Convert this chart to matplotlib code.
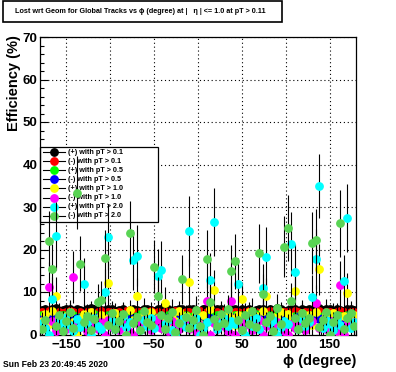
#!/usr/bin/env python
import numpy as np
import matplotlib
matplotlib.use('Agg')
from matplotlib import pyplot as plt
from matplotlib.lines import Line2D

# phi bins (4 degree wide), centres from -178 to 178
phi_lo, phi_hi, n_bins = -180.0, 180.0, 90

labels = ['(+) with pT > 0.1', '(-) with pT > 0.1',
          '(+) with pT > 0.5', '(-) with pT > 0.5',
          '(+) with pT > 1.0', '(-) with pT > 1.0',
          '(+) with pT > 2.0', '(-) with pT > 2.0']
colors = ['#000000', '#ff0000', '#00ff00', '#0000ff',
          '#ffff00', '#ff00ff', '#00ffff', '#59d454']

eff_pos_01 = [
    5.8, 6.0, 5.6, 5.9, 6.2, 5.5, 5.8, 6.1, 5.9, 5.6,
    6.0, 5.7, 5.5, 5.9, 6.2, 6.0, 5.6, 5.8, 5.7, 6.1,
    5.9, 5.5, 5.7, 6.0, 5.6, 5.8, 6.1, 5.7, 5.5, 5.9,
    6.0, 5.8, 5.6, 6.1, 5.9, 5.7, 6.0, 5.5, 5.8, 5.9,
    6.1, 5.6, 5.9, 6.0, 5.7, 5.5, 5.9, 6.2, 5.8, 5.6,
    6.0, 5.9, 5.5, 5.7, 6.1, 5.9, 5.6, 6.0, 5.8, 5.9,
    5.5, 5.8, 6.1, 5.9, 5.6, 6.0, 5.8, 6.2, 5.9, 5.6,
    5.8, 6.0, 5.9, 5.5, 6.1, 5.7, 5.9, 5.6, 6.0, 6.2,
    5.8, 5.9, 6.1, 5.6, 6.0, 5.7, 5.5, 5.9, 6.1, 5.8]
eff_neg_01 = [
    5.3, 5.1, 5.5, 5.2, 5.0, 5.4, 5.1, 5.3, 5.5, 5.2,
    5.0, 5.3, 5.1, 5.4, 5.2, 4.9, 5.3, 5.5, 5.1, 5.2,
    5.4, 5.0, 5.3, 5.1, 5.5, 5.2, 4.9, 5.3, 5.4, 5.1,
    5.2, 5.5, 5.0, 5.3, 5.1, 5.4, 5.2, 5.0, 5.5, 5.3,
    5.1, 5.4, 5.2, 5.0, 5.3, 5.6, 5.1, 5.2, 5.4, 5.0,
    5.3, 5.1, 5.5, 5.2, 4.9, 5.4, 5.3, 5.1, 5.2, 5.5,
    5.0, 5.3, 5.1, 5.4, 5.2, 5.5, 5.1, 5.3, 5.0, 5.4,
    5.2, 5.1, 5.5, 5.3, 5.0, 5.4, 5.2, 5.1, 5.3, 5.5,
    5.1, 5.4, 5.2, 5.0, 5.3, 5.5, 5.2, 5.1, 5.4, 5.3]
eff_pos_05 = [
    4.5, 4.0, 4.6, 4.2, 3.9, 4.4, 4.7, 4.1, 4.3, 4.6,
    3.8, 4.2, 4.5, 4.0, 4.4, 4.8, 4.1, 3.9, 4.3, 4.6,
    4.2, 4.0, 4.7, 4.3, 3.9, 4.5, 4.1, 4.4, 4.8, 4.0,
    4.3, 4.6, 4.2, 3.8, 4.4, 4.1, 4.7, 4.3, 4.0, 4.5,
    4.2, 4.6, 3.9, 4.4, 4.8, 4.1, 4.3, 4.0, 4.5, 4.2,
    4.7, 4.0, 4.4, 4.1, 3.9, 4.5, 4.3, 4.6, 4.2, 4.0,
    4.4, 4.8, 4.1, 4.3, 3.9, 4.6, 4.2, 4.5, 4.0, 4.3,
    4.7, 4.1, 4.4, 3.9, 4.2, 4.6, 4.0, 4.5, 4.3, 4.1,
    4.4, 4.8, 4.2, 4.0, 4.6, 4.3, 3.9, 4.5, 4.2, 4.4]
eff_neg_05 = [
    3.6, 4.0, 3.5, 3.9, 4.2, 3.7, 3.4, 3.8, 4.1, 3.6,
    3.9, 3.3, 3.7, 4.0, 3.5, 3.8, 4.2, 3.6, 3.4, 3.9,
    3.7, 4.1, 3.5, 3.8, 3.3, 3.6, 4.0, 3.7, 3.5, 3.9,
    4.2, 3.6, 3.8, 3.4, 3.7, 4.0, 3.5, 3.9, 3.6, 3.3,
    3.8, 4.1, 3.5, 3.7, 3.9, 3.4, 3.6, 4.0, 3.8, 3.5,
    3.7, 3.9, 3.3, 3.6, 4.1, 3.8, 3.5, 3.7, 4.0, 3.6,
    3.4, 3.8, 3.9, 3.5, 4.2, 3.7, 3.6, 3.3, 3.9, 4.0,
    3.5, 3.7, 3.8, 4.1, 3.4, 3.6, 3.9, 3.5, 3.8, 3.7,
    4.0, 3.6, 3.4, 3.9, 3.7, 3.5, 4.1, 3.8, 3.6, 3.9]
eff_pos_10 = [
    3.2, 4.8, 2.5, 5.6, 9.0, 3.9, 2.1, 4.4, 5.2, 3.0,
    0.0, 3.6, 4.9, 2.8, 5.4, 3.3, 1.9, 4.6, 3.8, 12.2,
    2.6, 5.0, 3.4, 4.1, 2.2, 5.7, 3.5, 9.0, 2.9, 4.5,
    3.1, 5.3, 2.4, 4.0, 3.7, 7.3, 2.7, 4.8, 3.2, 5.5,
    2.0, 4.3, 12.4, 3.6, 5.1, 2.5, 4.7, 3.0, 5.9, 10.4,
    3.3, 4.2, 2.6, 5.0, 3.9, 2.3, 4.6, 8.4, 3.1, 5.2,
    2.8, 4.4, 3.5, 5.6, 9.0, 2.4, 4.1, 3.7, 5.3, 2.9,
    4.8, 3.2, 10.2, 2.6, 5.0, 3.8, 4.5, 2.2, 5.4, 15.4,
    3.4, 4.9, 2.7, 5.1, 3.6, 0.0, 4.3, 9.8, 3.0, 4.6]
eff_neg_10 = [
    2.4, 1.5, 11.2, 3.1, 0.9, 2.7, 3.6, 1.2, 2.0, 13.5,
    3.0, 1.7, 2.5, 0.8, 3.3, 2.2, 1.4, 2.9, 0.0, 3.5,
    1.8, 2.6, 1.1, 3.2, 2.0, 0.7, 0.0, 2.8, 1.5, 3.4,
    2.3, 1.0, 2.9, 3.6, 1.6, 2.4, 0.9, 3.1, 2.1, 1.3,
    3.0, 2.5, 1.2, 3.4, 0.8, 2.2, 1.7, 8.0, 0.0, 2.6,
    1.4, 3.2, 2.0, 0.9, 8.0, 0.0, 2.8, 1.6, 3.5, 2.3,
    1.1, 2.9, 3.3, 0.0, 1.9, 2.7, 1.3, 3.0, 2.2, 0.8,
    0.0, 2.5, 1.6, 3.4, 2.1, 1.0, 2.8, 3.2, 7.5, 1.5,
    2.6, 1.2, 3.1, 2.0, 0.9, 11.6, 0.0, 2.4, 1.8, 3.0]
eff_pos_20 = [
    2.8, 1.5, 0.0, 8.4, 23.2, 3.4, 1.9, 4.1, 2.3, 0.9,
    3.6, 1.7, 11.9, 2.5, 0.0, 3.9, 2.1, 1.2, 9.9, 22.9,
    3.1, 1.4, 2.7, 4.3, 1.8, 2.9, 17.5, 18.5, 1.1, 3.3,
    2.0, 3.8, 1.6, 13.8, 15.2, 2.4, 3.5, 1.0, 0.0, 2.6,
    3.7, 1.8, 24.3, 2.2, 3.9, 0.0, 1.5, 3.0, 12.8, 26.5,
    1.3, 2.8, 4.0, 1.9, 3.2, 2.5, 12.0, 1.1, 0.0, 3.4,
    2.1, 3.8, 1.4, 10.9, 18.2, 2.7, 3.5, 0.0, 1.7, 3.1,
    2.4, 21.3, 14.6, 1.2, 3.6, 2.0, 2.9, 8.9, 17.8, 34.9,
    1.6, 3.3, 2.5, 1.0, 3.9, 2.2, 12.6, 27.4, 1.5, 3.0]
eff_neg_20 = [
    1.2, 3.5, 22.0, 15.3, 2.0, 4.6, 0.8, 3.1, 5.2, 1.6,
    33.4, 16.7, 2.9, 4.4, 1.0, 3.7, 7.7, 8.1, 17.9, 2.3,
    5.0, 1.4, 3.2, 4.8, 0.0, 24.0, 2.6, 4.1, 1.1, 5.6,
    3.0, 2.2, 16.0, 9.0, 4.5, 1.3, 3.8, 5.4, 0.7, 2.7,
    13.0, 4.2, 1.5, 3.4, 5.8, 2.1, 0.0, 17.8, 7.6, 3.6,
    1.9, 4.9, 2.8, 6.0, 15.0, 17.2, 3.3, 1.0, 4.7, 2.4,
    5.5, 1.7, 19.1, 9.5, 3.0, 4.3, 0.9, 6.2, 2.5, 20.7,
    25.0, 8.0, 3.9, 1.4, 5.1, 2.6, 4.0, 21.5, 22.2, 1.8,
    3.5, 5.3, 0.0, 2.9, 4.6, 26.2, 1.2, 3.8, 5.0, 2.0]

# errors: high statistics samples have a flat small error
err_pos_01 = 0.4
err_neg_01 = 0.45
err_pos_05 = 0.6
err_neg_05 = 0.6
err_pos_10 = [
    1.8, 2.2, 1.6, 2.4, 4.5, 2.0, 1.5, 2.1, 2.3, 1.7,
    1.5, 1.9, 2.2, 1.7, 2.4, 1.8, 1.4, 2.1, 2.0, 5.5,
    1.6, 2.3, 1.9, 2.0, 1.5, 2.5, 1.8, 4.2, 1.7, 2.1,
    1.8, 2.4, 1.6, 2.0, 1.9, 3.8, 1.7, 2.2, 1.8, 2.4,
    1.5, 2.1, 5.4, 1.9, 2.3, 1.6, 2.2, 1.8, 2.5, 4.8,
    1.8, 2.1, 1.6, 2.3, 2.0, 1.5, 2.2, 4.0, 1.8, 2.4,
    1.7, 2.1, 1.9, 2.5, 4.3, 1.6, 2.0, 1.9, 2.4, 1.7,
    2.2, 1.8, 4.7, 1.6, 2.3, 2.0, 2.1, 1.5, 2.4, 6.0,
    1.9, 2.2, 1.7, 2.3, 1.9, 1.5, 2.1, 4.6, 1.8, 2.1]
err_neg_10 = [
    1.6, 1.2, 5.8, 1.9, 1.0, 1.7, 2.0, 1.1, 1.5, 6.2,
    1.8, 1.3, 1.6, 0.9, 1.9, 1.5, 1.2, 1.8, 1.0, 2.0,
    1.3, 1.7, 1.0, 1.9, 1.4, 0.9, 1.0, 1.7, 1.2, 1.9,
    1.5, 1.0, 1.8, 2.0, 1.2, 1.6, 1.0, 1.8, 1.4, 1.1,
    1.8, 1.6, 1.1, 1.9, 0.9, 1.5, 1.3, 4.5, 1.0, 1.7,
    1.2, 1.9, 1.4, 1.0, 4.4, 1.0, 1.7, 1.3, 2.0, 1.5,
    1.1, 1.8, 1.9, 1.0, 1.4, 1.7, 1.1, 1.8, 1.5, 0.9,
    1.0, 1.6, 1.3, 1.9, 1.5, 1.0, 1.7, 1.9, 4.2, 1.2,
    1.7, 1.1, 1.8, 1.4, 1.0, 5.6, 1.0, 1.6, 1.3, 1.8]
err_pos_20 = [
    2.6, 1.9, 1.5, 5.2, 8.0, 2.8, 2.1, 3.0, 2.4, 1.4,
    2.9, 2.0, 6.1, 2.5, 1.5, 3.0, 2.3, 1.6, 5.4, 7.8,
    2.7, 1.8, 2.6, 3.1, 2.1, 2.7, 7.0, 7.2, 1.5, 2.9,
    2.2, 3.0, 1.9, 6.4, 6.8, 2.5, 2.9, 1.4, 1.5, 2.6,
    3.0, 2.1, 8.2, 2.4, 3.1, 1.5, 1.9, 2.8, 6.3, 8.0,
    1.7, 2.7, 3.1, 2.2, 2.9, 2.5, 6.0, 1.5, 1.5, 2.9,
    2.3, 3.0, 1.8, 5.8, 7.1, 2.6, 2.9, 1.5, 2.0, 2.8,
    2.4, 7.6, 6.7, 1.6, 3.0, 2.2, 2.7, 5.0, 7.0, 7.5,
    1.9, 2.9, 2.5, 1.4, 3.1, 2.3, 6.2, 8.1, 1.8, 2.8]
err_neg_20 = [
    1.5, 2.6, 7.0, 6.0, 2.0, 2.9, 1.2, 2.5, 3.0, 1.8,
    8.5, 6.4, 2.4, 2.8, 1.3, 2.6, 4.2, 4.4, 6.6, 2.2,
    3.0, 1.7, 2.5, 2.9, 1.5, 7.5, 2.3, 2.7, 1.4, 3.1,
    2.4, 2.1, 6.2, 4.6, 2.8, 1.6, 2.6, 3.0, 1.1, 2.3,
    5.8, 2.7, 1.8, 2.5, 3.2, 2.0, 1.5, 6.8, 4.0, 2.6,
    2.0, 2.9, 2.3, 3.3, 6.1, 6.5, 2.5, 1.3, 2.8, 2.2,
    3.1, 1.9, 6.9, 4.8, 2.4, 2.7, 1.2, 3.4, 2.2, 7.1,
    7.8, 4.1, 2.6, 1.7, 3.0, 2.3, 2.6, 7.3, 7.4, 1.9,
    2.5, 3.1, 1.5, 2.4, 2.8, 7.9, 1.5, 2.6, 2.9, 2.0]

effs = [eff_pos_01, eff_neg_01, eff_pos_05, eff_neg_05,
        eff_pos_10, eff_neg_10, eff_pos_20, eff_neg_20]
errs = [err_pos_01, err_neg_01, err_pos_05, err_neg_05,
        err_pos_10, err_neg_10, err_pos_20, err_neg_20]

plot_title = 'Lost wrt Geom for Global Tracks vs \u03d5 (degree) at |   \u03b7 | <= 1.0 at pT > 0.11'
date_text = 'Sun Feb 23 20:49:45 2020'

FONT = ['Liberation Sans', 'DejaVu Sans']
plt.rcParams['font.family'] = FONT
plt.rcParams['font.weight'] = 'bold'

W, H = 396, 372


def fx(px):
    return px / W


def fy(py):
    return 1 - py / H


def draw_legend(ax):
    # ROOT-like TLegend: white box, drawn above the grid but below the points
    tf = ax.figure.transFigure
    box = plt.Rectangle((fx(40), fy(222)), fx(118), 75 / H, transform=tf,
                        facecolor='white', edgecolor='black', linewidth=0.9,
                        zorder=2.5, clip_on=False)
    ax.add_artist(box)
    for k, (lab, c) in enumerate(zip(labels, colors)):
        y = fy(152 + 9.1 * k)
        ln = Line2D([fx(43), fx(65)], [y, y], transform=tf, color='black',
                    lw=0.8, zorder=2.6, clip_on=False)
        mk = Line2D([fx(54)], [y], transform=tf, marker='o', ms=5.3,
                    mfc=c, mec=c, ls='none', zorder=2.7, clip_on=False)
        ax.add_artist(ln)
        ax.add_artist(mk)
        ax.text(fx(68), y, lab, transform=tf, ha='left', va='center',
                fontsize=5.2, fontweight='bold', zorder=2.7, clip_on=False)


def main():
    fig = plt.figure(figsize=(W / 100, H / 100), dpi=100)
    ax = fig.add_axes([fx(40), fy(334.5), 316 / W, 297.5 / H])

    edges = np.linspace(phi_lo, phi_hi, n_bins + 1)
    phi = 0.5 * (edges[:-1] + edges[1:])

    for k, (y, e, c) in enumerate(zip(effs, errs, colors)):
        ax.errorbar(phi, y, yerr=e, fmt='o', color=c, mec=c, ms=5.3,
                    ecolor='black', elinewidth=0.8, capsize=0,
                    zorder=3 + k)

    ax.set_xlim(phi_lo, phi_hi)
    ax.set_ylim(0, 70)
    ax.set_xticks(np.arange(-150, 151, 50))
    ax.set_xticks(np.arange(-180, 181, 10), minor=True)
    ax.set_yticks(np.arange(0, 71, 10))
    ax.set_yticks(np.arange(0, 71, 2), minor=True)
    ax.tick_params(which='both', direction='in', top=False, right=False,
                   width=0.8, labelsize=9.5)
    ax.tick_params(which='major', length=6)
    ax.tick_params(which='minor', length=3.2)
    ax.tick_params(axis='x', pad=3)
    ax.tick_params(axis='y', pad=2)
    for lab in ax.get_xticklabels() + ax.get_yticklabels():
        lab.set_fontweight('bold')
    ax.grid(True, which='major', color='black', linestyle=(0, (1, 2.5)),
            linewidth=0.8)
    ax.set_axisbelow(True)
    for s in ax.spines.values():
        s.set_linewidth(0.9)

    draw_legend(ax)

    fig.text(fx(14), fy(35), 'Efficiency (%)', rotation=90,
             ha='center', va='top', fontsize=10.5, fontweight='bold')
    fig.text(fx(356), fy(365), '\u03d5 (degree)', ha='right',
             va='baseline', fontsize=10.5, fontweight='bold')
    fig.text(fx(3), fy(367), date_text, ha='left', va='baseline',
             fontsize=6.2, fontweight='bold')

    # title box
    fig.patches.append(plt.Rectangle((fx(3), fy(22)), 279 / W, 21 / H,
                                     transform=fig.transFigure,
                                     facecolor='white', edgecolor='black',
                                     linewidth=1.2))
    fig.text(fx(140), fy(11.5), plot_title, ha='center', va='center',
             fontsize=5.2, fontweight='bold')

    plt.savefig('out.png', dpi=100)


if __name__ == '__main__':
    main()
